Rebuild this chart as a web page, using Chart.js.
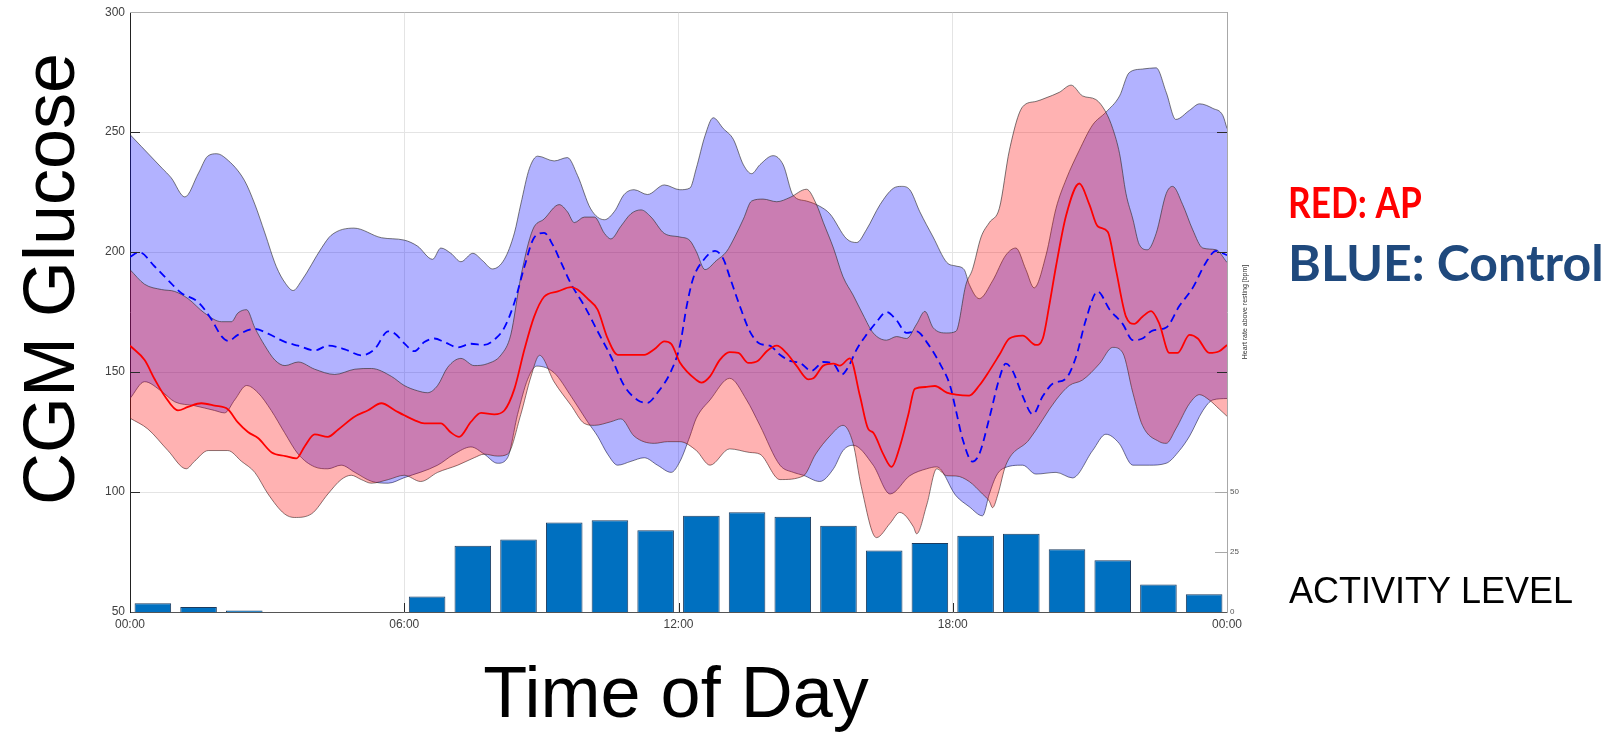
<!DOCTYPE html>
<html>
<head>
<meta charset="utf-8">
<title>CGM Glucose by Time of Day</title>
<script src="https://cdn.jsdelivr.net/npm/chart.js@4.4.1/dist/chart.umd.min.js"></script>
<style>
  html, body { margin: 0; padding: 0; background: #ffffff; }
  #wrap { position: relative; width: 1616px; height: 733px; }
</style>
</head>
<body>
<div id="wrap"><canvas id="cgm" width="1616" height="733"></canvas></div>
<script>
// ---- Data: time in hours since midnight, glucose in mg/dL ----
// AP group: median and interquartile band
const apMedT = [0,0.32,0.54,0.76,1.05,1.27,1.56,1.85,2.14,2.36,2.58,2.8,3.1,3.4,3.64,3.82,4.04,4.33,4.55,4.92,5.2,5.5,5.8,6.0,6.22,6.44,6.8,7.02,7.2,7.46,7.68,7.97,8.19,8.41,8.63,8.84,9.06,9.36,9.65,9.79,10.01,10.23,10.45,10.67,10.96,11.25,11.47,11.69,11.84,12.03,12.39,12.5,12.69,12.9,13.12,13.31,13.53,13.74,13.93,14.15,14.36,14.58,14.84,14.95,15.17,15.39,15.53,15.75,15.97,16.15,16.26,16.48,16.66,16.84,17.03,17.17,17.43,17.61,17.87,18.07,18.36,18.58,18.8,19.02,19.24,19.53,19.82,19.97,20.11,20.26,20.48,20.77,20.99,21.17,21.39,21.57,21.79,21.97,22.15,22.34,22.52,22.74,22.92,23.18,23.36,23.61,23.83,24];
const apMed = [161,155,147,140,134,135.5,137,136,134.5,129,125,122.5,116.5,115,114,119,124,123,126,131.5,134,137,134,132,130,128.6,128.6,124.8,123,129.3,133,132.4,134,143,159.5,173,181.4,183.6,185.4,184.4,180.6,176,164,157.2,157.2,157.2,159.5,162.8,161.8,154,146.7,145.6,148.2,155,158.3,158,153.8,154.7,158.7,161,158,152.7,147,147.4,152.7,153.5,152.7,155.7,140,126.3,124.8,115.8,110.5,118.8,132.4,143,143.8,144.2,141.4,140.6,140.2,144.4,150.5,157.2,164,165.2,161.3,164,177.6,194.2,215.3,228.6,219.8,210.8,208.5,192.7,173.1,170.1,173.1,175.4,170.1,158,158,165.5,164,158,158.7,161.3];

const apHiT = [0,0.32,0.69,0.98,1.27,1.63,2.0,2.22,2.36,2.55,2.73,2.95,3.17,3.39,3.68,4.04,4.48,4.92,5.28,5.72,6.0,6.29,6.51,6.73,6.95,7.24,7.53,7.82,8.12,8.33,8.55,8.81,9.06,9.39,9.57,9.72,9.94,10.16,10.38,10.52,10.74,10.96,11.18,11.4,11.69,12.03,12.25,12.39,12.58,12.83,13.05,13.23,13.42,13.6,13.85,14.15,14.44,14.8,15.02,15.17,15.39,15.6,15.82,16.04,16.26,16.55,16.77,16.99,17.21,17.39,17.57,17.87,18.07,18.29,18.43,18.62,18.8,19.02,19.24,19.53,19.82,20.04,20.33,20.59,20.84,21.13,21.35,21.5,21.65,21.79,21.94,22.08,22.26,22.45,22.67,22.81,23.03,23.25,23.47,23.76,24];
const apHi = [192.7,186.6,184.4,183.6,180.6,174.6,171,171,174.6,176,168.5,161,155,152.7,154.2,151.2,149,151.2,151.5,148.2,144.4,142.2,141.4,144.4,152,155.7,152.7,153.5,157.2,165.5,189.7,209.3,213.8,219.8,216.8,212.3,214.6,214.6,207.8,205.5,210.8,216,217.6,214.6,207.8,206.3,204.8,200.2,192.7,196.5,200.2,206.3,213.8,221.3,222.1,221,222.8,226.2,219.8,212.3,201.7,189.7,182.1,173.8,166.3,163.3,164.8,164,170,175.3,168.5,166.3,167,186.6,192.7,206.3,212.3,218.3,242.5,260.6,262.8,264.3,266.6,269.6,265.1,263.6,258.3,251.5,241,224.4,213.8,203.2,201,207.8,224.4,227.4,219.8,209.3,201.7,201,195.7];

const apLoT = [0,0.39,0.83,1.23,1.41,1.71,2.14,2.44,2.73,3.02,3.38,3.6,3.97,4.33,4.62,4.84,5.06,5.28,5.65,6.0,6.36,6.73,7.17,7.53,7.75,8.04,8.26,8.55,8.77,8.96,9.28,9.65,9.94,10.16,10.52,10.74,11.03,11.47,11.76,12.03,12.39,12.69,13.12,13.56,13.78,14.22,14.73,15.0,15.31,15.6,15.82,16.0,16.33,16.63,16.84,17.14,17.21,17.43,17.65,17.87,18.07,18.36,18.65,18.8,18.87,18.99,19.16,19.67,20.26,20.55,20.84,21.21,21.5,21.72,21.94,22.15,22.52,22.67,22.88,23.18,23.4,23.61,23.83,24];
const apLo = [130.8,126.3,117.3,109.7,112.8,117.3,117.3,112.8,108.2,99.2,90.9,89.4,90.9,99.2,105.2,107,105.2,103.7,105.2,107,104.4,108.2,111.2,114.3,115.8,115,115.8,132.4,148,157,145.9,136.1,128.6,127.8,129.3,130.5,123.3,120.3,121,121,117.3,111.2,118,116.5,115.8,105.2,106.7,115.8,123.3,127.8,120.3,102.2,81,87,91.5,85.5,82.6,94.6,109.7,106.8,106.7,104.4,99.2,96.2,93.5,99.2,111.2,121.8,138.4,144.4,146.7,153.5,160.3,158,141.4,127.8,121,120.3,126.3,136.9,140.6,138.4,134.6,131.6];

// Control group: median and interquartile band
const ctrlMedT = [0,0.2,0.54,0.9,1.12,1.5,1.78,2.0,2.15,2.36,2.73,3.02,3.4,3.68,4.04,4.33,4.7,5.06,5.35,5.65,5.8,6.0,6.22,6.44,6.66,6.88,7.17,7.46,7.75,8.0,8.19,8.41,8.63,8.84,9.06,9.25,9.43,9.65,9.94,10.23,10.52,10.81,11.1,11.32,11.54,11.84,12.03,12.18,12.32,12.54,12.8,12.98,13.12,13.34,13.56,13.78,14.0,14.22,14.44,14.66,14.91,15.17,15.39,15.57,15.71,15.9,16.11,16.33,16.55,16.77,16.99,17.21,17.43,17.72,17.94,18.07,18.22,18.43,18.58,18.8,19.02,19.16,19.31,19.53,19.75,19.97,20.19,20.48,20.7,20.91,21.17,21.43,21.72,21.94,22.15,22.37,22.67,22.96,23.25,23.54,23.76,24];
const ctrlMed = [198,200,194,187,183,179,172,165,163,165.5,168,166,162.5,161,159,161,159.5,157,159.5,167,166,162,158.7,162.5,164,162.5,160.3,161.8,161.3,164,168.5,179,194,206,208,203,195.7,186.7,177.6,167,156.5,144.4,138.4,137.2,141.4,150.5,161,177.6,189,196.5,200.5,197.2,189.7,177.6,167,161.8,161,157.2,154.7,153.8,150.5,154.2,153.5,149,152,159.5,165.5,170.8,175,171.6,166.3,167,162.5,153.5,144.4,134,121.8,112.7,115.8,130.8,147.4,153.5,150.5,140,132.4,140,145.2,147.4,156.5,171.6,183.6,176.1,170,163.3,164,167.3,168.6,177.6,185.1,195.7,200.5,198.7];

const ctrlHiT = [0,0.25,0.7,0.9,1.2,1.5,1.7,1.9,2.1,2.5,2.73,2.95,3.2,3.4,3.57,3.75,4.2,4.4,4.9,5.5,6.0,6.29,6.62,6.8,7.02,7.24,7.5,7.71,7.93,8.19,8.41,8.55,8.74,8.92,9.28,9.57,9.79,10.08,10.38,10.6,10.81,11.03,11.32,11.69,12.03,12.25,12.39,12.58,12.76,12.98,13.2,13.42,13.6,13.78,14.07,14.29,14.51,14.8,15.09,15.31,15.68,15.9,16.11,16.41,16.7,16.88,17.06,17.28,17.57,17.87,18.07,18.25,18.36,18.58,18.87,19.16,19.38,19.6,19.78,20.04,20.26,20.48,20.77,21.06,21.35,21.65,21.86,22.15,22.45,22.67,22.88,23.18,23.4,23.69,23.91,24];
const ctrlHi = [249,244,235,231,223,233,240,241,239,230,220,208,194,187,184,188,202,207,210,206,205,202.5,197,201.7,199.5,196,199.5,196.5,193,197,208,220,235,240,238,239.4,232,218,213.5,217,224,226,224,228,226,226.7,235,248.5,256,251.5,247,236.4,232.7,236.4,240.2,236.4,223.6,221.3,219.1,216,205.5,204,209.3,219.8,226.6,227.4,226,216.8,206.3,195.7,194.2,192.7,186.6,180.6,188,198.7,201.7,192.7,185.1,198.7,218.3,230.3,242.5,253,258.3,265.1,274.8,276.3,276.8,266.6,255.3,259.1,261.8,259.9,256.9,251.5];

const ctrlLoT = [0,0.32,0.69,0.98,1.41,1.85,2.07,2.29,2.55,2.8,3.09,3.38,3.68,4.04,4.33,4.62,4.92,5.28,5.65,6.0,6.73,7.09,7.46,7.75,8.04,8.26,8.48,8.7,8.9,9.28,9.65,10.01,10.23,10.45,10.67,10.96,11.25,11.54,11.84,12.03,12.25,12.39,12.69,13.12,13.49,13.78,14.22,14.51,14.73,15.09,15.39,15.6,15.82,16.26,16.63,17.06,17.43,17.65,18.07,18.36,18.65,18.8,18.95,19.09,19.53,19.82,20.26,20.62,21.06,21.35,21.64,21.94,22.3,22.67,22.96,23.18,23.47,23.69,24];
const ctrlLo = [139,146,142,137.6,136,134,133,138.4,144.4,141.4,134,124.8,115.8,110.5,109.7,111.2,108.2,104.5,103.7,106,111.2,115.8,118.8,115.8,112,114.3,132.4,147,152.5,149.7,139.9,129.3,123.3,115.8,111.2,112.8,114.3,111.2,108.2,112.7,123.3,130.8,138.4,147.4,138.4,127.8,111.2,108.2,107,104.4,109.7,117.3,119.5,111.2,99.2,106.8,109.7,110.5,98.5,93.9,90.1,99.2,106.7,109.7,111.2,107.5,108.2,105.9,117.3,124.1,120.3,111.2,111.2,112,117.3,123.3,133.9,138.4,139];

// Activity: heart rate above resting (bpm), hourly means
const activityHours = [0.5,1.5,2.5,3.5,4.5,5.5,6.5,7.5,8.5,9.5,10.5,11.5,12.5,13.5,14.5,15.5,16.5,17.5,18.5,19.5,20.5,21.5,22.5,23.5];
const activity = [3.6,2.1,0.6,0,0,0,6.5,27.6,30.2,37.3,38.2,34.1,40.1,41.6,39.7,35.9,25.6,28.8,31.8,32.6,26.2,21.6,11.5,7.4];

// Axis ticks and labels
const timeTickHours = [0,6,12,18,24];
const timeTickLabels = ['00:00','06:00','12:00','18:00','00:00'];
const glucoseTicks = [50,100,150,200,250,300];
const activityTicks = [0,25,50];
const groupLabels = ['RED: AP', 'BLUE: Control'];

const SANS = '"Liberation Sans", Arial, Helvetica, sans-serif';

function points(t, v) { return t.map((x, i) => ({ x: x, y: v[i] })); }

const bandEdge = 'rgba(45,45,45,0.8)';

const lineCommon = {
  type: 'line',
  yAxisID: 'y',
  pointRadius: 0,
  pointHoverRadius: 0,
  cubicInterpolationMode: 'monotone'
};

const datasets = [
  Object.assign({}, lineCommon, {
    label: 'AP median', data: points(apMedT, apMed),
    borderColor: '#ff0000', borderWidth: 1.8, fill: false, order: 0
  }),
  Object.assign({}, lineCommon, {
    label: 'Control median', data: points(ctrlMedT, ctrlMed),
    borderColor: '#0000ff', borderWidth: 1.8, borderDash: [8, 5], fill: false, order: 0
  }),
  Object.assign({}, lineCommon, {
    label: 'AP upper', data: points(apHiT, apHi),
    borderColor: bandEdge, borderWidth: 0.8,
    backgroundColor: 'rgba(255,0,0,0.3)', fill: '+1', order: 1
  }),
  Object.assign({}, lineCommon, {
    label: 'AP lower', data: points(apLoT, apLo),
    borderColor: bandEdge, borderWidth: 0.8, fill: false, order: 1
  }),
  Object.assign({}, lineCommon, {
    label: 'Control upper', data: points(ctrlHiT, ctrlHi),
    borderColor: bandEdge, borderWidth: 0.8,
    backgroundColor: 'rgba(0,0,255,0.3)', fill: '+1', order: 2
  }),
  Object.assign({}, lineCommon, {
    label: 'Control lower', data: points(ctrlLoT, ctrlLo),
    borderColor: bandEdge, borderWidth: 0.8, fill: false, order: 2
  }),
  {
    type: 'bar',
    label: 'Activity',
    yAxisID: 'y2',
    data: points(activityHours, activity),
    backgroundColor: '#0070c0',
    borderColor: '#1c3b5e',
    borderWidth: (c) => (c.raw && c.raw.y > 0 ? 1 : 0),
    barPercentage: 0.8,
    categoryPercentage: 1.0,
    order: 3
  }
];

// Plot box edge, inward tick marks and the free-standing captions
const decorations = {
  id: 'decorations',
  afterDraw(chart) {
    const ctx = chart.ctx;
    const a = chart.chartArea;
    const ys = chart.scales.y, y2s = chart.scales.y2, xs = chart.scales.x;
    ctx.save();
    ctx.lineWidth = 1;

    ctx.strokeStyle = '#b0b0b0';
    ctx.beginPath();
    ctx.moveTo(a.left, Math.round(a.top) + 0.5);
    ctx.lineTo(a.right, Math.round(a.top) + 0.5);
    ctx.stroke();

    ctx.strokeStyle = '#2a2a2a';
    ctx.beginPath();
    [100, 150, 200, 250].forEach(v => {
      const py = Math.round(ys.getPixelForValue(v)) + 0.5;
      ctx.moveTo(a.left, py); ctx.lineTo(a.left + 10, py);
      if (v > 100) { ctx.moveTo(a.right - 10, py); ctx.lineTo(a.right, py); }
    });
    [6, 12, 18].forEach(h => {
      const px = Math.round(xs.getPixelForValue(h)) + 0.5;
      ctx.moveTo(px, a.bottom); ctx.lineTo(px, a.bottom - 9);
    });
    ctx.stroke();

    ctx.strokeStyle = '#a8a8a8';
    ctx.beginPath();
    [25, 50].forEach(v => {
      const py = Math.round(y2s.getPixelForValue(v)) + 0.5;
      ctx.moveTo(a.right - 12, py); ctx.lineTo(a.right, py);
    });
    ctx.stroke();

    ctx.fillStyle = '#000000';
    ctx.textBaseline = 'alphabetic';
    ctx.textAlign = 'center';
    ctx.font = '72px ' + SANS;
    ctx.save();
    ctx.translate(74, 279);
    ctx.rotate(-Math.PI / 2);
    ctx.fillText('CGM Glucose', 0, 0);
    ctx.restore();
    ctx.fillText('Time of Day', 676, 717);

    ctx.save();
    ctx.font = '7px ' + SANS;
    ctx.fillStyle = '#333333';
    ctx.translate(1247, 312);
    ctx.rotate(-Math.PI / 2);
    ctx.fillText('Heart rate above resting [bpm]', 0, 0);
    ctx.restore();

    ctx.textAlign = 'left';
    ctx.save();
    ctx.font = 'bold 42px Lato, "Open Sans", sans-serif';
    ctx.fillStyle = '#ff0000';
    ctx.translate(1288, 218);
    ctx.scale(0.84, 1);
    ctx.fillText(groupLabels[0], 0, 0);
    ctx.restore();
    ctx.font = 'bold 50px Lato, "Open Sans", sans-serif';
    ctx.fillStyle = '#1f497d';
    ctx.fillText(groupLabels[1], 1288, 281);

    ctx.font = '36px ' + SANS;
    ctx.fillStyle = '#000000';
    ctx.fillText('ACTIVITY LEVEL', 1289, 603);
    ctx.restore();
  }
};

new Chart(document.getElementById('cgm'), {
  type: 'line',
  data: { datasets: datasets },
  options: {
    responsive: false,
    devicePixelRatio: 1,
    animation: false,
    events: [],
    layout: { padding: { top: 10, left: 0, right: 0, bottom: 0 } },
    plugins: {
      legend: { display: false },
      tooltip: { enabled: false },
      filler: { propagate: false }
    },
    scales: {
      x: {
        type: 'linear',
        position: 'bottom',
        min: 0, max: 24,
        offset: false,
        afterBuildTicks: (s) => { s.ticks = timeTickHours.map(v => ({ value: v })); },
        afterFit: (s) => { s.height = 121; },
        ticks: {
          autoSkip: false, maxRotation: 0, padding: 5,
          color: '#404040',
          font: { family: SANS, size: 12 },
          callback: (v, i) => timeTickLabels[i]
        },
        grid: {
          drawTicks: false, offset: false, lineWidth: 1,
          color: (c) => (c.tick && (c.tick.value === 0 || c.tick.value === 24)) ? 'rgba(0,0,0,0)' : '#e4e4e4'
        },
        border: { display: true, color: '#555555', width: 1 }
      },
      y: {
        type: 'linear',
        position: 'left',
        min: 50, max: 300,
        afterBuildTicks: (s) => { s.ticks = glucoseTicks.map(v => ({ value: v })); },
        afterFit: (s) => { s.width = 130; },
        ticks: { padding: 5, color: '#404040', font: { family: SANS, size: 12 } },
        grid: { drawTicks: false, color: '#e4e4e4', lineWidth: 1 },
        border: { display: true, color: '#222222', width: 1 }
      },
      y2: {
        type: 'linear',
        position: 'right',
        min: 0, max: 250,
        afterBuildTicks: (s) => { s.ticks = activityTicks.map(v => ({ value: v })); },
        afterFit: (s) => { s.width = 389; },
        ticks: { padding: 3, color: '#555555', font: { family: SANS, size: 8 } },
        grid: { display: false, drawTicks: false },
        border: { display: true, color: '#a8a8a8', width: 1 }
      }
    }
  },
  plugins: [decorations]
});
</script>
</body>
</html>
